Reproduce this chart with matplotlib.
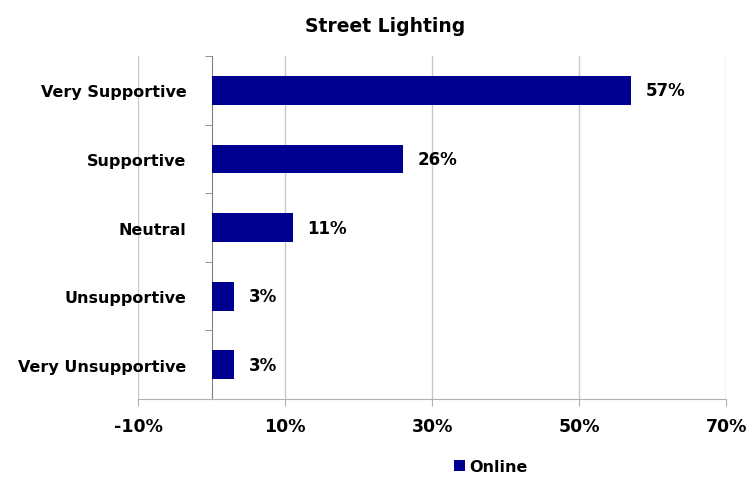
import matplotlib

matplotlib.use("Agg")
import matplotlib.pyplot as plt
import numpy as np

categories = ["Very Supportive", "Supportive", "Neutral", "Unsupportive", "Very Unsupportive"]
values = [57, 26, 11, 3, 3]
xticks = [-10, 10, 30, 50, 70]
series_name = "Online"

BAR = "#000090"
FONT = {"family": "DejaVu Sans", "weight": "bold"}

fig = plt.figure(figsize=(7.55, 4.89), dpi=100)
ax = fig.add_axes([0.183, 0.182, 0.779, 0.701])

# spine placement first: set_position resets the tick setup
ax.spines["left"].set_position(("data", 0))
ax.spines["left"].set_color("#808080")
ax.spines["bottom"].set_color("#b0b0b0")
ax.spines["top"].set_visible(False)
ax.spines["right"].set_visible(False)

y = np.arange(len(categories))
ax.barh(y, values, height=0.42, color=BAR, label=series_name, zorder=3)
for yi, v in zip(y, values):
    ax.text(v + 2.0, yi, f"{v}%", va="center", ha="left", fontsize=12, **FONT)

ax.set_xlim(-10, 70)
ax.set_ylim(len(categories) - 0.5, -0.5)
ax.set_xticks(xticks)
ax.set_xticklabels([f"{t}%" for t in xticks], fontsize=12.5, **FONT)
ax.tick_params(axis="x", length=5, color="#b0b0b0", pad=8)
ax.grid(True, axis="x", color="#c8c8c8", lw=1, zorder=0)

ax.set_yticks(y)
ax.set_yticklabels(categories, fontsize=11.5, **FONT)
ax.set_yticks(np.arange(len(categories) + 1) - 0.5, minor=True)
ax.tick_params(axis="y", which="major", length=0, pad=18)
ax.tick_params(axis="y", which="minor", length=5, color="#808080")

fig.text(0.51, 0.945, "Street Lighting", ha="center", va="center", fontsize=13.5, **FONT)

leg = fig.legend(loc="center", bbox_to_anchor=(0.65, 0.043), frameon=False,
                 handlelength=0.7, handleheight=0.7, handletextpad=0.3,
                 prop={"family": "DejaVu Sans", "weight": "bold", "size": 11.5})

fig.savefig("out.png", dpi=100)
